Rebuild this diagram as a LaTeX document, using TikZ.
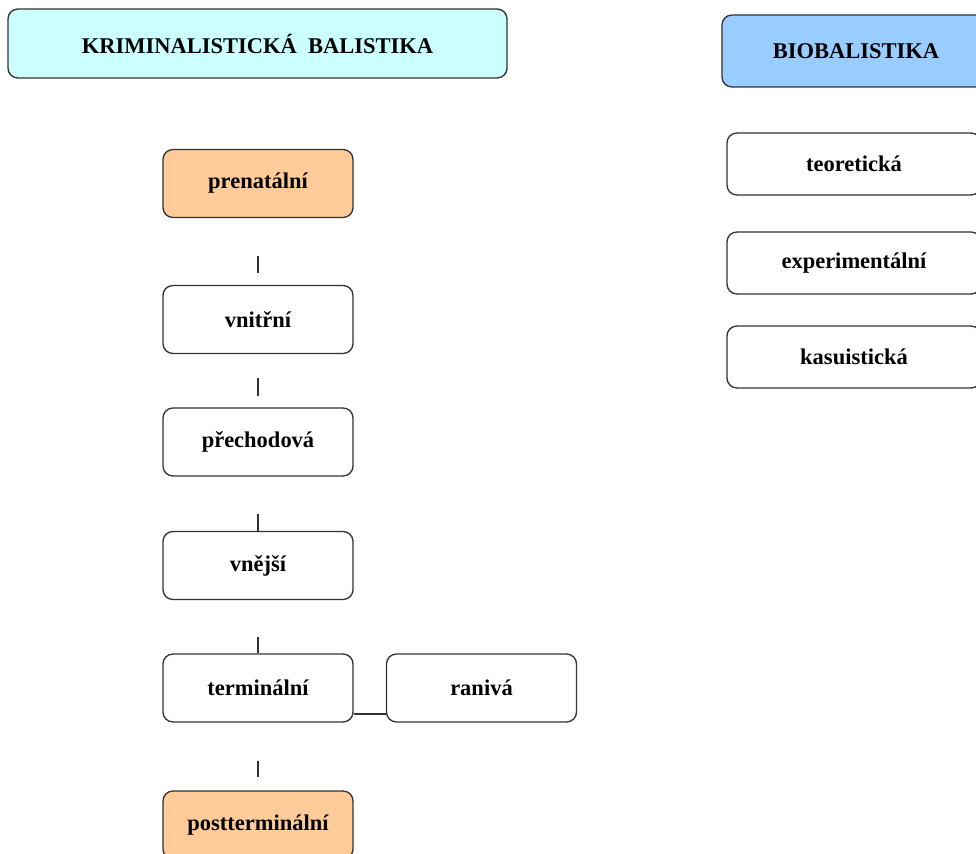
\documentclass[tikz,border=0pt]{standalone}
\usepackage{fontspec}
\setmainfont{Liberation Serif}
\usetikzlibrary{positioning}
\definecolor{krimcyan}{HTML}{CCFFFF}
\definecolor{biosky}{HTML}{99CCFF}
\definecolor{fazeorange}{HTML}{FFCC99}

\begin{document}
\begin{tikzpicture}[x=0.025cm,y=-0.025cm,
        box/.style={draw=black!80, line width=.95pt, rounded corners=.25cm, inner sep=0pt,
                    minimum width=4.75cm, minimum height=1.7cm,
                    font=\bfseries\fontsize{16}{19}\selectfont},
        tick/.style={draw=black!80, line width=.95pt}]
        \useasboundingbox (0,0) rectangle (976,854);
        \clip (0,0) rectangle (976,854);

        \node[box, fill=krimcyan, minimum width=12.475cm, minimum height=1.725cm] (krim) at (257.5,43.5) {KRIMINALISTICKÁ~~BALISTIKA};
        \node[box, fill=biosky, minimum width=6.7cm, minimum height=1.8cm] (bio) at (856,51) {BIOBALISTIKA};
        \node[box, minimum width=6.35cm, minimum height=1.55cm] (teoreticka) at (854,164) {teoretická};
        \node[box, minimum width=6.35cm, minimum height=1.55cm] (experimentalni) at (854,263) {experimentální};
        \node[box, minimum width=6.35cm, minimum height=1.55cm] (kasuisticka) at (854,357) {kasuistická};

        \node[box, fill=fazeorange] (prenatalni) at (258,183.5) {prenatální};
        \node[box] (vnitrni) at (258,319.5) {vnitřní};
        \node[box] (prechodova) at (258,442) {přechodová};
        \node[box] (vnejsi) at (258,565.5) {vnější};
        \node[box] (terminalni) at (258,688) {terminální};
        \node[box] (raniva) at (481.5,688) {ranivá};
        \node[box, fill=fazeorange] (postterminalni) at (258,825) {postterminální};

        \foreach \a/\b/\s/\e in {prenatalni/vnitrni/38/12, vnitrni/prechodova/24/11,
                prechodova/vnejsi/37/0, vnejsi/terminalni/37/0, terminalni/postterminalni/38/13}
          \draw[tick, shorten <=\s*0.025cm, shorten >=\e*0.025cm] (\a) -- (\b);
        \draw[tick] ([yshift=-0.65cm]terminalni.east) -- ([yshift=-0.65cm]raniva.west);
      \end{tikzpicture}
\end{document}
